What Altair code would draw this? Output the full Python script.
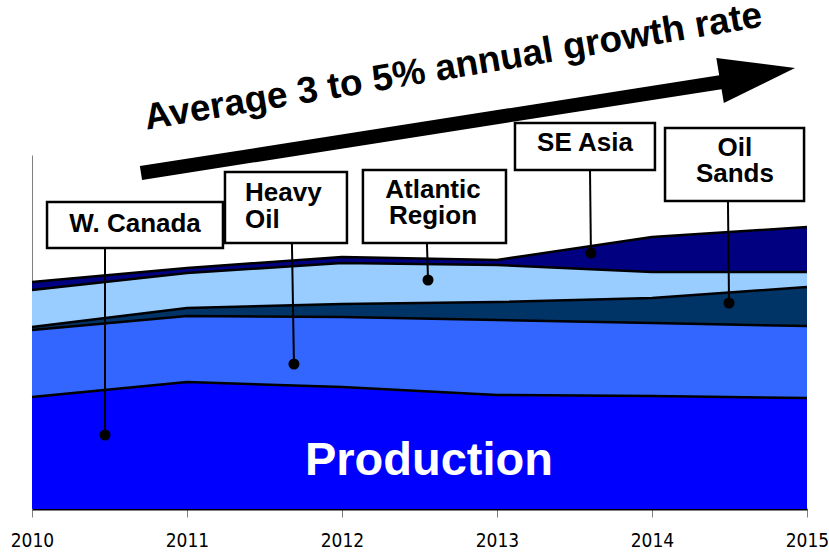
import altair as alt
import pandas as pd

# ---- chart values -------------------------------------------------------
years = [2010, 2011, 2012, 2013, 2014, 2015]
series_names = ["W. Canada", "Heavy Oil", "Oil Sands", "Atlantic Region", "SE Asia"]
w_canada = [112, 127, 122, 114, 113, 111]
heavy_oil = [67, 66, 70, 75, 73, 72]
oil_sands = [3, 8, 13, 18, 25, 39]
atlantic_region = [37, 35, 41, 37, 26, 15]
se_asia = [8, 5, 6, 5, 35, 45]
series_colors = ["#0000FF", "#3366FF", "#003366", "#99CCFF", "#000080"]

# ---- annotation call-outs (data coordinates) ----------------------------
label_text = ["W. Canada", "Heavy\nOil", "Atlantic\nRegion", "SE Asia", "Oil\nSands"]
label_align = ["center", "left", "center", "center", "center"]
label_x = [2010.665, 2011.374, 2012.587, 2013.568, 2014.535]
label_y = [285, 316, 319, 366, 361]
box_x0 = [2010.097, 2011.245, 2012.135, 2013.116, 2014.084]
box_x1 = [2011.232, 2012.032, 2013.058, 2014.019, 2014.981]
box_top = [307, 337, 339, 386, 381]
box_bottom = [261, 266, 266, 339, 308]
lead_x0 = [2010.471, 2011.677, 2012.548, 2013.600, 2014.490]
lead_x1 = [2010.471, 2011.690, 2012.555, 2013.606, 2014.497]
lead_end = [74, 145, 229, 256, 206]

title_text = ["Average 3 to 5% annual growth rate"]
title_x = [2012.729]
title_y = [431]
arrow_x = [2010.703, 2014.452]
arrow_y = [336, 427]
head_x = [2014.681]
head_y = [434.7]
center_text = ["Production"]
center_x = [2012.561]
center_y = [34]

# ---- tables ---------------------------------------------------------------
rows = []
for i, (name, vals) in enumerate(
    zip(series_names, [w_canada, heavy_oil, oil_sands, atlantic_region, se_asia])
):
    for yr, v in zip(years, vals):
        rows.append({"year": yr, "series": name, "value": v, "ord": i})
df = pd.DataFrame(rows)

ann = pd.DataFrame({
    "label": label_text, "align": label_align, "lx": label_x, "ly": label_y,
    "bx0": box_x0, "bx1": box_x1, "bt": box_top, "bb": box_bottom,
    "lx0": lead_x0, "lx1": lead_x1, "le": lead_end,
})
title_df = pd.DataFrame({"t": title_text, "x": title_x, "y": title_y})
arrow_df = pd.DataFrame({"x": arrow_x, "y": arrow_y})
head_df = pd.DataFrame({"x": head_x, "y": head_y})
center_df = pd.DataFrame({"t": center_text, "x": center_x, "y": center_y})

xs = alt.Scale(domain=[2010, 2015], nice=False, zero=False)
ys = alt.Scale(domain=[0, 354], nice=False, zero=False)
FONT = "Arial, 'Liberation Sans', Helvetica, sans-serif"

base = alt.Chart(df).transform_stack(
    stack="value", groupby=["year"], as_=["v0", "v1"],
    sort=[alt.SortField("ord", order="ascending")],
)

areas = base.mark_area(opacity=1).encode(
    x=alt.X("year:Q", scale=xs, title=None,
            axis=alt.Axis(values=years, format="d", title=None)),
    y=alt.Y("v1:Q", scale=ys, title=None),
    y2="v0:Q",
    color=alt.Color("series:N", scale=alt.Scale(domain=series_names, range=series_colors),
                    legend=None),
)
lines = base.mark_line(color="black", strokeWidth=2.5).encode(
    x=alt.X("year:Q", scale=xs, title=None),
    y=alt.Y("v1:Q", scale=ys, title=None),
    detail="series:N",
)

annc = alt.Chart(ann)
leaders = annc.mark_rule(color="black", strokeWidth=2).encode(
    x=alt.X("lx0:Q", scale=xs, title=None), x2="lx1:Q",
    y=alt.Y("bb:Q", scale=ys, title=None), y2="le:Q",
)
dots = annc.mark_point(filled=True, color="black", size=121, opacity=1).encode(
    x=alt.X("lx1:Q", scale=xs, title=None),
    y=alt.Y("le:Q", scale=ys, title=None),
)
boxes = annc.mark_rect(fill="white", stroke="black", strokeWidth=2.5).encode(
    x=alt.X("bx0:Q", scale=xs, title=None), x2="bx1:Q",
    y=alt.Y("bt:Q", scale=ys, title=None), y2="bb:Q",
)
text_c = annc.transform_filter(alt.datum.align == "center").mark_text(
    font=FONT, fontWeight="bold", fontSize=26, lineBreak="\n", lineHeight=26,
    align="center", baseline="middle", color="black",
).encode(
    x=alt.X("lx:Q", scale=xs, title=None),
    y=alt.Y("ly:Q", scale=ys, title=None),
    text="label:N",
)
text_l = annc.transform_filter(alt.datum.align == "left").mark_text(
    font=FONT, fontWeight="bold", fontSize=26, lineBreak="\n", lineHeight=27,
    align="left", baseline="middle", color="black",
).encode(
    x=alt.X("lx:Q", scale=xs, title=None),
    y=alt.Y("ly:Q", scale=ys, title=None),
    text="label:N",
)

shaft = alt.Chart(arrow_df).mark_line(color="black", strokeWidth=14, strokeCap="butt").encode(
    x=alt.X("x:Q", scale=xs, title=None),
    y=alt.Y("y:Q", scale=ys, title=None),
)
head = alt.Chart(head_df).mark_point(
    shape="M1,0L-1,-0.6L-1,0.6Z", filled=True, color="black", opacity=1,
    size=5776, angle=350.5, strokeWidth=0,
).encode(
    x=alt.X("x:Q", scale=xs, title=None),
    y=alt.Y("y:Q", scale=ys, title=None),
)
title = alt.Chart(title_df).mark_text(
    font=FONT, fontWeight="bold", fontSize=37, angle=350.5,
    align="center", baseline="alphabetic", color="black",
).encode(
    x=alt.X("x:Q", scale=xs, title=None),
    y=alt.Y("y:Q", scale=ys, title=None),
    text="t:N",
)
production = alt.Chart(center_df).mark_text(
    font=FONT, fontWeight="bold", fontSize=47,
    align="center", baseline="alphabetic", color="white",
).encode(
    x=alt.X("x:Q", scale=xs, title=None),
    y=alt.Y("y:Q", scale=ys, title=None),
    text="t:N",
)

chart = alt.layer(
    areas, lines, leaders, dots, boxes, text_c, text_l, shaft, head, title, production
).properties(
    width=775, height=354,
    padding={"left": 32, "top": 155, "right": 22, "bottom": 46},
    autosize=alt.AutoSizeParams(type="none"),
).configure_view(stroke=None).configure_axisX(
    grid=False, domainColor="black", domainWidth=2, tickColor="#808080", tickSize=8,
    labelFont="'Liberation Sans Narrow', 'DejaVu Sans Condensed', 'Arial Narrow', Arial, sans-serif",
    labelFontSize=19, labelColor="black", labelPadding=14, labelFlush=False,
).configure_axisY(
    grid=False, domainColor="#808080", domainWidth=1, ticks=False, labels=False,
)

chart.save("out.html", embed_options={"renderer": "svg", "actions": False})
